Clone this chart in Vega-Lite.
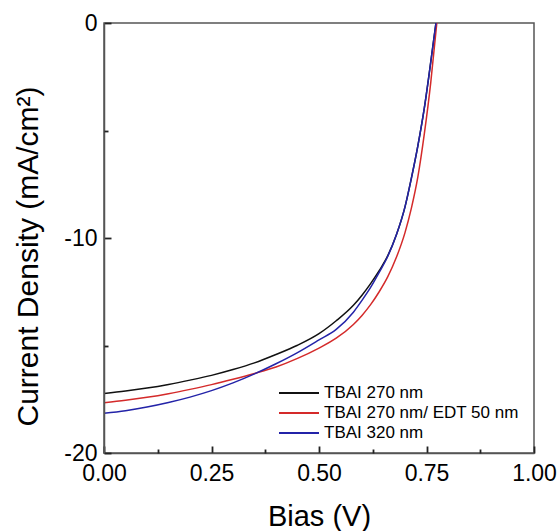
{
  "$schema": "https://vega.github.io/schema/vega-lite/v6.json",
  "width": 430,
  "height": 430,
  "autosize": "none",
  "padding": {"left": 104, "top": 23, "right": 25, "bottom": 78},
  "background": "white",
  "config": {
    "font": "Liberation Sans",
    "view": {"stroke": "#555555", "strokeWidth": 1.5}
  },
  "resolve": {"axis": {"x": "independent", "y": "independent"}},
  "layer": [
    {
      "data": {
        "values": [
          {"series": "TBAI 270 nm", "V": 0.00, "J": -17.23},
          {"series": "TBAI 270 nm", "V": 0.05, "J": -17.12},
          {"series": "TBAI 270 nm", "V": 0.10, "J": -16.98},
          {"series": "TBAI 270 nm", "V": 0.15, "J": -16.81},
          {"series": "TBAI 270 nm", "V": 0.20, "J": -16.61},
          {"series": "TBAI 270 nm", "V": 0.25, "J": -16.39},
          {"series": "TBAI 270 nm", "V": 0.30, "J": -16.12},
          {"series": "TBAI 270 nm", "V": 0.35, "J": -15.81},
          {"series": "TBAI 270 nm", "V": 0.40, "J": -15.42},
          {"series": "TBAI 270 nm", "V": 0.45, "J": -14.99},
          {"series": "TBAI 270 nm", "V": 0.50, "J": -14.45},
          {"series": "TBAI 270 nm", "V": 0.54, "J": -13.85},
          {"series": "TBAI 270 nm", "V": 0.58, "J": -13.13},
          {"series": "TBAI 270 nm", "V": 0.60, "J": -12.66},
          {"series": "TBAI 270 nm", "V": 0.62, "J": -12.12},
          {"series": "TBAI 270 nm", "V": 0.64, "J": -11.52},
          {"series": "TBAI 270 nm", "V": 0.66, "J": -10.82},
          {"series": "TBAI 270 nm", "V": 0.68, "J": -9.85},
          {"series": "TBAI 270 nm", "V": 0.70, "J": -8.55},
          {"series": "TBAI 270 nm", "V": 0.715, "J": -7.2},
          {"series": "TBAI 270 nm", "V": 0.73, "J": -5.7},
          {"series": "TBAI 270 nm", "V": 0.745, "J": -3.95},
          {"series": "TBAI 270 nm", "V": 0.758, "J": -2.1},
          {"series": "TBAI 270 nm", "V": 0.772, "J": 0},

          {"series": "TBAI 270 nm/ EDT 50 nm", "V": 0.00, "J": -17.66},
          {"series": "TBAI 270 nm/ EDT 50 nm", "V": 0.05, "J": -17.55},
          {"series": "TBAI 270 nm/ EDT 50 nm", "V": 0.10, "J": -17.41},
          {"series": "TBAI 270 nm/ EDT 50 nm", "V": 0.15, "J": -17.24},
          {"series": "TBAI 270 nm/ EDT 50 nm", "V": 0.20, "J": -17.04},
          {"series": "TBAI 270 nm/ EDT 50 nm", "V": 0.25, "J": -16.82},
          {"series": "TBAI 270 nm/ EDT 50 nm", "V": 0.30, "J": -16.57},
          {"series": "TBAI 270 nm/ EDT 50 nm", "V": 0.35, "J": -16.30},
          {"series": "TBAI 270 nm/ EDT 50 nm", "V": 0.40, "J": -16.00},
          {"series": "TBAI 270 nm/ EDT 50 nm", "V": 0.45, "J": -15.60},
          {"series": "TBAI 270 nm/ EDT 50 nm", "V": 0.50, "J": -15.12},
          {"series": "TBAI 270 nm/ EDT 50 nm", "V": 0.54, "J": -14.66},
          {"series": "TBAI 270 nm/ EDT 50 nm", "V": 0.58, "J": -14.02},
          {"series": "TBAI 270 nm/ EDT 50 nm", "V": 0.60, "J": -13.60},
          {"series": "TBAI 270 nm/ EDT 50 nm", "V": 0.62, "J": -13.10},
          {"series": "TBAI 270 nm/ EDT 50 nm", "V": 0.64, "J": -12.50},
          {"series": "TBAI 270 nm/ EDT 50 nm", "V": 0.66, "J": -11.80},
          {"series": "TBAI 270 nm/ EDT 50 nm", "V": 0.68, "J": -10.90},
          {"series": "TBAI 270 nm/ EDT 50 nm", "V": 0.70, "J": -9.75},
          {"series": "TBAI 270 nm/ EDT 50 nm", "V": 0.715, "J": -8.60},
          {"series": "TBAI 270 nm/ EDT 50 nm", "V": 0.73, "J": -7.15},
          {"series": "TBAI 270 nm/ EDT 50 nm", "V": 0.745, "J": -5.15},
          {"series": "TBAI 270 nm/ EDT 50 nm", "V": 0.76, "J": -2.75},
          {"series": "TBAI 270 nm/ EDT 50 nm", "V": 0.774, "J": 0},

          {"series": "TBAI 320 nm", "V": 0.00, "J": -18.15},
          {"series": "TBAI 320 nm", "V": 0.05, "J": -18.03},
          {"series": "TBAI 320 nm", "V": 0.10, "J": -17.86},
          {"series": "TBAI 320 nm", "V": 0.15, "J": -17.65},
          {"series": "TBAI 320 nm", "V": 0.20, "J": -17.40},
          {"series": "TBAI 320 nm", "V": 0.25, "J": -17.10},
          {"series": "TBAI 320 nm", "V": 0.30, "J": -16.74},
          {"series": "TBAI 320 nm", "V": 0.35, "J": -16.32},
          {"series": "TBAI 320 nm", "V": 0.40, "J": -15.85},
          {"series": "TBAI 320 nm", "V": 0.45, "J": -15.33},
          {"series": "TBAI 320 nm", "V": 0.50, "J": -14.74},
          {"series": "TBAI 320 nm", "V": 0.54, "J": -14.25},
          {"series": "TBAI 320 nm", "V": 0.58, "J": -13.45},
          {"series": "TBAI 320 nm", "V": 0.60, "J": -12.90},
          {"series": "TBAI 320 nm", "V": 0.62, "J": -12.30},
          {"series": "TBAI 320 nm", "V": 0.64, "J": -11.60},
          {"series": "TBAI 320 nm", "V": 0.66, "J": -10.85},
          {"series": "TBAI 320 nm", "V": 0.68, "J": -9.85},
          {"series": "TBAI 320 nm", "V": 0.70, "J": -8.55},
          {"series": "TBAI 320 nm", "V": 0.715, "J": -7.2},
          {"series": "TBAI 320 nm", "V": 0.73, "J": -5.7},
          {"series": "TBAI 320 nm", "V": 0.745, "J": -3.95},
          {"series": "TBAI 320 nm", "V": 0.758, "J": -2.1},
          {"series": "TBAI 320 nm", "V": 0.772, "J": 0}
        ]
      },
      "mark": {"type": "line", "strokeWidth": 1.5, "interpolate": "monotone", "clip": true},
      "encoding": {
        "x": {
          "field": "V",
          "type": "quantitative",
          "scale": {"domain": [0, 1], "nice": false, "zero": false},
          "axis": {
            "orient": "bottom",
            "zindex": 1,
            "title": "Bias (V)",
            "values": [0, 0.25, 0.5, 0.75, 1],
            "format": ".2f",
            "labelFlush": false,
            "labelOverlap": false,
            "labelFontSize": 23,
            "labelColor": "#000000",
            "labelPadding": 16,
            "grid": false,
            "domainColor": "#555555",
            "domainWidth": 1.5,
            "ticks": true,
            "tickColor": "#222222",
            "tickWidth": 1.8,
            "tickSize": -7,
            "titleFontSize": 29,
            "titleFontWeight": "normal",
            "titleColor": "#000000",
            "titleBaseline": "alphabetic",
            "titleAnchor": "middle",
            "titleX": 215,
            "titleY": 72
          }
        },
        "y": {
          "field": "J",
          "type": "quantitative",
          "scale": {"domain": [-20, 0], "nice": false, "zero": false},
          "axis": {
            "orient": "left",
            "zindex": 1,
            "title": "Current Density (mA/cm²)",
            "values": [-20, -10, 0],
            "labelExpr": "toString(datum.value)",
            "labelFlush": false,
            "labelOverlap": false,
            "labelFontSize": 23,
            "labelColor": "#000000",
            "labelPadding": 14,
            "grid": false,
            "domainColor": "#555555",
            "domainWidth": 1.5,
            "ticks": true,
            "tickColor": "#222222",
            "tickWidth": 1.8,
            "tickSize": -7,
            "titleFontSize": 30,
            "titleFontWeight": "normal",
            "titleColor": "#000000",
            "titleBaseline": "alphabetic",
            "titleAngle": -90,
            "titleAlign": "center",
            "titleX": -67,
            "titleY": 233
          }
        },
        "color": {
          "field": "series",
          "type": "nominal",
          "scale": {
            "domain": ["TBAI 270 nm", "TBAI 270 nm/ EDT 50 nm", "TBAI 320 nm"],
            "range": ["#111111", "#d42a2a", "#2323a8"]
          },
          "legend": {
            "title": null,
            "orient": "none",
            "legendX": 174,
            "legendY": 359,
            "padding": 0,
            "symbolType": "M-1,0H3",
            "symbolSize": 400,
            "symbolStrokeWidth": 2,
            "symbolFillColor": "transparent",
            "labelFontSize": 17,
            "labelColor": "#000000",
            "labelOffset": 24,
            "labelLimit": 400,
            "rowPadding": 1
          }
        }
      }
    },
    {
      "data": {"values": []},
      "mark": {"type": "point", "opacity": 0},
      "encoding": {
        "x": {
          "field": "V",
          "type": "quantitative",
          "axis": {
            "orient": "bottom",
            "zindex": 1,
            "title": null,
            "values": [0.125, 0.375, 0.625, 0.875],
            "labels": false,
            "domain": false,
            "grid": false,
            "ticks": true,
            "tickColor": "#222222",
            "tickWidth": 1.8,
            "tickSize": -4
          }
        },
        "y": {
          "field": "J",
          "type": "quantitative",
          "axis": {
            "orient": "left",
            "zindex": 1,
            "title": null,
            "values": [-15, -5],
            "labels": false,
            "domain": false,
            "grid": false,
            "ticks": true,
            "tickColor": "#222222",
            "tickWidth": 1.8,
            "tickSize": -4
          }
        }
      }
    }
  ]
}
